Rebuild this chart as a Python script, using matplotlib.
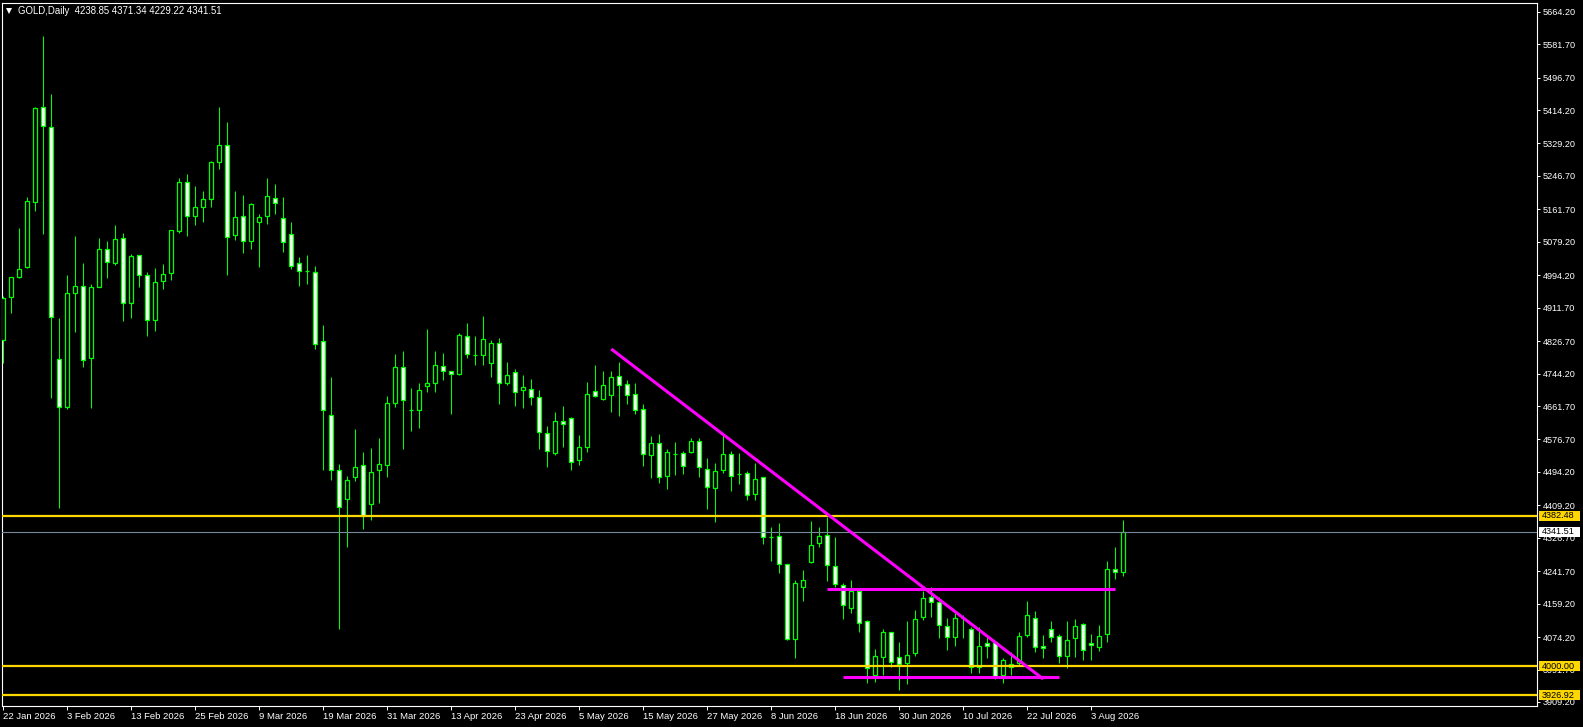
import matplotlib
matplotlib.use("Agg")
import matplotlib.pyplot as plt
import matplotlib.transforms as mtransforms
from matplotlib.lines import Line2D
from matplotlib.patches import Rectangle
import pandas as pd

SYMBOL = "GOLD,Daily"

# daily OHLC (first bar = 22 Jan 2026)
opens = [4829.5, 4937.9, 4988.8, 5015.9, 5181.2, 5421.1, 5371.9, 4780.3, 4660.0, 4948.0,
         4965.9, 4782.8, 4965.0, 5060.0, 5026.0, 5088.0, 4922.7, 5044.7, 4993.9, 4880.3,
         4978.6, 4999.0, 5107.4, 5230.3, 5145.6, 5166.8, 5187.1, 5281.2, 5324.4, 5097.3,
         5143.9, 5082.0, 5130.3, 5145.6, 5189.6, 5138.8, 5098.1, 5024.4, 5004.5, 5001.5,
         4826.1, 4638.0, 4498.1, 4424.4, 4482.0, 4510.8, 4411.7, 4498.1, 4510.8, 4670.2,
         4760.0, 4652.0, 4650.7, 4711.7, 4719.3, 4762.5, 4749.8, 4743.9, 4838.8, 4790.3,
         4790.5, 4770.2, 4821.0, 4719.3, 4747.3, 4701.5, 4704.1, 4683.7, 4592.2, 4541.4,
         4622.7, 4630.3, 4523.6, 4558.3, 4699.0, 4678.6, 4690.5, 4737.1, 4716.8, 4691.4,
         4653.2, 4536.3, 4566.8, 4482.9, 4539.4, 4541.4, 4543.9, 4571.9, 4500.7, 4452.4,
         4498.1, 4538.8, 4487.6, 4490.5, 4437.1, 4480.3, 4327.5, 4330.3, 4259.1, 4068.4,
         4202.3, 4265.9, 4312.5, 4332.8, 4254.0, 4207.4, 4147.2, 4191.3, 4115.9, 3977.7,
         4024.3, 4086.2, 4022.6, 4007.4, 4034.5, 4124.3, 4175.2, 4162.5, 4101.4, 4073.5,
         4121.5, 4093.8, 3998.9, 4058.2, 4060.8, 3977.7, 3998.9, 4007.4, 4079.4, 4122.6,
         4051.5, 4093.8, 4076.9, 4025.2, 4070.9, 4107.4, 4058.2, 4048.1, 4081.1, 4246.4,
         4238.85]
highs = [4941.0, 4990.5, 5113.4, 5192.2, 5421.0, 5602.4, 5454.2, 4885.4, 4994.7, 5093.9,
         5025.2, 4971.8, 5088.8, 5081.2, 5121.8, 5100.7, 5048.1, 5045.5, 5001.5, 5011.7,
         5022.7, 5109.0, 5240.5, 5250.7, 5221.0, 5207.4, 5284.6, 5421.0, 5382.9, 5208.3,
         5198.1, 5177.0, 5149.8, 5241.3, 5226.1, 5193.0, 5128.6, 5039.6, 5044.7, 5016.7,
         4867.6, 4734.6, 4514.2, 4483.7, 4602.4, 4543.9, 4554.9, 4580.3, 4686.3, 4793.9,
         4801.5, 4707.5, 4720.2, 4857.5, 4801.5, 4796.4, 4750.5, 4848.1, 4872.7, 4839.7,
         4890.5, 4828.7, 4834.6, 4773.6, 4755.8, 4740.5, 4730.4, 4702.4, 4610.8, 4646.4,
         4661.7, 4634.6, 4588.0, 4722.7, 4765.9, 4750.7, 4750.7, 4773.6, 4727.8, 4720.2,
         4665.9, 4585.4, 4590.5, 4552.4, 4570.2, 4547.3, 4580.3, 4580.3, 4528.6, 4515.9,
         4593.9, 4547.3, 4542.2, 4495.6, 4515.9, 4481.0, 4354.0, 4363.4, 4260.0, 4219.3,
         4244.7, 4369.3, 4354.9, 4380.3, 4329.4, 4210.8, 4219.3, 4192.0, 4116.5, 4043.0,
         4094.7, 4087.0, 4061.6, 4115.0, 4143.0, 4192.1, 4202.3, 4176.9, 4121.8, 4136.2,
         4130.3, 4100.6, 4100.6, 4079.4, 4065.0, 4020.1, 4037.1, 4087.9, 4166.7, 4141.3,
         4079.4, 4115.9, 4082.0, 4115.9, 4119.2, 4109.1, 4082.0, 4104.8, 4267.6, 4303.2,
         4371.34]
lows = [4771.8, 4898.9, 4987.0, 5013.4, 5158.3, 5099.0, 4682.8, 4402.4, 4655.0, 4850.6,
        4760.0, 4655.7, 4964.0, 4988.0, 5020.1, 4878.6, 4886.2, 4965.0, 4840.5, 4853.2,
        4960.0, 4982.0, 5102.3, 5094.7, 5121.8, 5130.3, 5168.5, 5263.4, 4995.6, 5084.5,
        5051.5, 5061.7, 5016.0, 5124.4, 5149.8, 5053.2, 5010.8, 4967.6, 4972.7, 4806.6,
        4499.0, 4473.6, 4094.7, 4304.1, 4471.9, 4349.8, 4371.9, 4415.9, 4482.0, 4660.0,
        4553.2, 4599.0, 4606.6, 4698.1, 4698.1, 4727.8, 4642.2, 4740.5, 4784.6, 4765.9,
        4765.9, 4735.4, 4667.6, 4715.9, 4661.7, 4657.5, 4665.1, 4553.2, 4507.5, 4537.9,
        4558.3, 4499.8, 4512.5, 4545.6, 4683.7, 4678.0, 4647.3, 4637.1, 4667.6, 4642.2,
        4510.0, 4479.5, 4465.1, 4451.5, 4487.1, 4489.7, 4543.0, 4482.0, 4400.7, 4365.9,
        4490.5, 4446.4, 4462.5, 4423.5, 4421.9, 4310.0, 4266.8, 4236.0, 4066.7, 4021.8,
        4166.7, 4263.3, 4304.0, 4217.6, 4202.3, 4119.2, 4134.5, 4087.9, 3956.5, 3960.8,
        3977.7, 3998.9, 3939.6, 3954.8, 4026.9, 4117.6, 4126.0, 4070.9, 4041.3, 4052.3,
        4070.9, 3983.6, 3982.0, 4020.1, 3966.7, 3956.5, 3977.7, 4003.2, 4073.5, 4037.1,
        4020.1, 4062.5, 4009.1, 3994.7, 4024.3, 4015.9, 4015.9, 4039.6, 4062.5, 4221.0,
        4229.22]
closes = [4935.4, 4988.8, 5010.8, 5182.0, 5418.5, 5374.3, 4887.1, 4660.0, 4948.1, 4965.9,
          4778.6, 4965.0, 5060.0, 5026.9, 5085.4, 4922.7, 5042.2, 4993.9, 4880.3, 4976.1,
          4996.4, 5108.3, 5230.3, 5143.9, 5166.8, 5187.9, 5282.0, 5324.4, 5090.5, 5141.3,
          5082.0, 5174.4, 5141.3, 5194.7, 5176.9, 5079.5, 5018.4, 5005.7, 5005.0, 4818.4,
          4650.7, 4498.1, 4405.8, 4472.7, 4505.8, 4382.0, 4493.0, 4513.4, 4668.5, 4760.0,
          4676.1, 4652.6, 4701.5, 4719.3, 4765.1, 4749.8, 4743.0, 4842.2, 4793.0, 4790.7,
          4831.2, 4821.0, 4719.3, 4739.7, 4696.4, 4709.2, 4683.7, 4594.7, 4546.4, 4622.7,
          4615.1, 4520.2, 4556.6, 4691.4, 4686.3, 4714.2, 4734.6, 4714.2, 4688.8, 4650.7,
          4538.8, 4566.8, 4480.3, 4543.9, 4540.0, 4508.3, 4571.9, 4505.8, 4454.9, 4495.6,
          4538.8, 4482.9, 4488.2, 4434.6, 4475.2, 4327.8, 4328.1, 4260.0, 4068.4, 4210.8,
          4219.3, 4307.4, 4330.3, 4256.5, 4209.1, 4155.7, 4191.3, 4109.1, 3995.0, 4025.2,
          4086.2, 4011.6, 4005.7, 4028.6, 4119.2, 4172.6, 4162.5, 4104.0, 4073.5, 4121.8,
          4122.1, 3998.9, 4051.5, 4050.6, 3973.5, 4015.9, 4005.7, 4076.9, 4130.3, 4048.1,
          4045.5, 4073.5, 4025.2, 4066.7, 4102.3, 4041.3, 4053.1, 4076.9, 4246.4, 4238.85,
          4341.51]

# price scale labels of the terminal
price_ticks = [5664.20, 5581.70, 5496.70, 5414.20, 5329.20, 5246.70, 5161.70, 5079.20,
               4994.20, 4911.70, 4826.70, 4744.20, 4661.70, 4576.70, 4494.20, 4409.20,
               4326.70, 4241.70, 4159.20, 4074.20, 3991.70, 3909.20]

# horizontal levels (yellow) and current bid
levels = [4382.48, 4000.00, 3926.92]
bid = 4341.51

# magenta drawings: (bar_from, price_from, bar_to, price_to)
trend_line = (76, 4806.6, 130, 3967.5)
range_top = (103, 4195.5, 139, 4195.5)
range_bottom = (105, 3971.8, 132, 3971.8)

dates = pd.bdate_range("2026-01-22", periods=150)
dates = dates[dates != pd.Timestamp("2026-04-03")][:len(opens)]

BULL_EDGE = "#00ff00"
GOLD_C = "#ffd700"
W, H = 1583, 727

fig = plt.figure(figsize=(W / 100, H / 100), dpi=100, facecolor="black")
ax = fig.add_axes([2 / W, 21 / H, 1535 / W, 703 / H], facecolor="black")

xmin = -0.1625
ax.set_xlim(xmin, xmin + 1535 / 8)
ax.set_ylim(3899.0, 5686.3)

n = len(opens)
ax.vlines(range(n), lows, highs, color=BULL_EDGE, lw=0.75, zorder=2)
for i in range(n):
    o, c = opens[i], closes[i]
    fill = "white" if c < o else "black"
    bottom = min(o, c)
    ax.add_patch(Rectangle((i - 0.25, bottom), 0.5, abs(c - o), facecolor=fill,
                           edgecolor=BULL_EDGE, lw=0.9, zorder=3))

for lv in levels:
    ax.axhline(lv, color=GOLD_C, lw=1.6, zorder=4)
ax.axhline(bid, color="#778899", lw=0.8, zorder=4)

for x0, y0, x1, y1 in (trend_line, range_top, range_bottom):
    ax.plot([x0, x1], [y0, y1], color="#ff00ff", lw=2.2, solid_capstyle="butt", zorder=5)

for sp in ax.spines.values():
    sp.set_color("white")
    sp.set_linewidth(0.8)

ax.yaxis.tick_right()
ax.set_yticks(price_ticks)
ax.set_yticklabels([f"{p:.2f}" for p in price_ticks], fontfamily="Liberation Sans")
ax.tick_params(axis="y", direction="out", length=2.5, width=0.7, color="white",
               labelcolor="white", labelsize=6.6, pad=1.5)

tick_idx = list(range(0, n, 8))
ax.set_xticks(tick_idx)
ax.set_xticklabels([f"{dates[i].day} {dates[i].strftime('%b %Y')}" for i in tick_idx],
                   fontfamily=["Liberation Sans Narrow", "Liberation Sans"], ha="left")
ax.tick_params(axis="x", direction="out", length=3, width=0.7, color="white",
               labelcolor="white", labelsize=6.8, pad=1)

# price boxes on the right scale
box_tr = mtransforms.blended_transform_factory(fig.transFigure, ax.transData)
px = (5686.3 - 3899.0) / 703
for val, bg in [(levels[0], GOLD_C), (bid, "white"), (levels[1], GOLD_C), (levels[2], GOLD_C)]:
    ax.add_patch(Rectangle((1539 / W, val - 5 * px), 41 / W, 10 * px, transform=box_tr,
                           facecolor=bg, edgecolor="none", clip_on=False, zorder=10))
    ax.text(1542 / W, val, f"{val:.2f}", transform=box_tr, color="black", fontsize=6.6,
            fontfamily="Liberation Sans", va="center", ha="left", clip_on=False, zorder=11)

# header
fig.add_artist(Line2D([9 / W], [1 - 10.5 / H], marker="v", ms=4.5, color="white",
                      markeredgewidth=0, transform=fig.transFigure))
fig.text(18 / W, 1 - 10.5 / H, f"{SYMBOL}  {opens[-1]:.2f} {highs[-1]:.2f} {lows[-1]:.2f} {closes[-1]:.2f}",
         color="white", fontsize=6.9, fontfamily="Liberation Sans", va="center", ha="left")

fig.savefig("out.png", dpi=100, facecolor="black")
